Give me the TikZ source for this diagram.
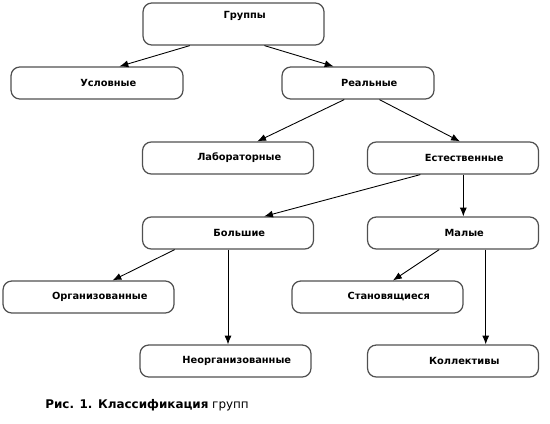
\documentclass[tikz,border=0pt]{standalone}
\usepackage{fontspec}
\setmainfont{DejaVu Sans}
\usetikzlibrary{positioning,arrows.meta,calc}
\definecolor{boxline}{RGB}{80,80,80}

\tikzset{
  grpbox/.style={draw=boxline,line width=0.7pt,rounded corners=5pt,
    minimum width=3.42cm,minimum height=0.64cm,inner sep=0pt,
    font=\fontsize{5.6}{6.5}\selectfont\bfseries,
    execute at begin node={\hspace*{0.45cm}}},
  grparrow/.style={-{Latex[length=5pt,width=4pt]},line width=0.5pt}
}

\begin{document}
\begin{tikzpicture}[x=0.02cm,y=-0.02cm]
  \useasboundingbox (0,0) rectangle (550,423);

  % boxes
  \node[grpbox,minimum width=3.62cm,minimum height=0.84cm,text depth=0.38cm]
    (grp) at (233.5,24) {Группы};
  \node[grpbox,minimum width=3.44cm] (usl) at (97,83) {Условные};
  \node[grpbox,minimum width=3.04cm] (real) at (358,83) {Реальные};
  \node[grpbox] (lab) at (228,158) {Лабораторные};
  \node[grpbox] (est) at (453,158) {Естественные};
  \node[grpbox] (bol) at (228,233) {Большие};
  \node[grpbox] (mal) at (453,233) {Малые};
  \node[grpbox] (org) at (88.5,297) {Организованные};
  \node[grpbox] (stan) at (377.5,297) {Становящиеся};
  \node[grpbox] (neo) at (225.5,361) {Неорганизованные};
  \node[grpbox] (kol) at (453,361) {Коллективы};

  % arrows
  \draw[grparrow] ($(grp.south west)!0.26!(grp.south east)$)
    -- ($(usl.north west)!0.63!(usl.north east)$);
  \draw[grparrow] ($(grp.south west)!0.67!(grp.south east)$)
    -- ($(real.north west)!0.34!(real.north east)$);
  \draw[grparrow] ($(real.south west)!0.41!(real.south east)$)
    -- ($(lab.north west)!0.67!(lab.north east)$);
  \draw[grparrow] ($(real.south west)!0.64!(real.south east)$)
    -- ($(est.north west)!0.54!(est.north east)$);
  \draw[grparrow] ($(est.south west)!0.31!(est.south east)$)
    -- ($(bol.north west)!0.71!(bol.north east)$);
  \draw[grparrow] ($(est.south west)!0.56!(est.south east)$)
    -- ($(mal.north west)!0.56!(mal.north east)$);
  \draw[grparrow] ($(bol.south west)!0.19!(bol.south east)$)
    -- ($(org.north west)!0.64!(org.north east)$);
  \coordinate (bolneo) at ($(bol.south west)!0.5!(bol.south east)$);
  \draw[grparrow] (bolneo) -- (bolneo |- neo.north);
  \draw[grparrow] ($(mal.south west)!0.42!(mal.south east)$)
    -- ($(stan.north west)!0.59!(stan.north east)$);
  \coordinate (malkol) at ($(mal.south west)!0.69!(mal.south east)$);
  \draw[grparrow] (malkol) -- (malkol |- kol.north);

  % caption
  \node[anchor=west,inner sep=0pt,font=\fontsize{6.8}{8}\selectfont]
    (caption) at (45,405) {\textbf{Рис. 1. Классификация} групп};
\end{tikzpicture}
\end{document}
